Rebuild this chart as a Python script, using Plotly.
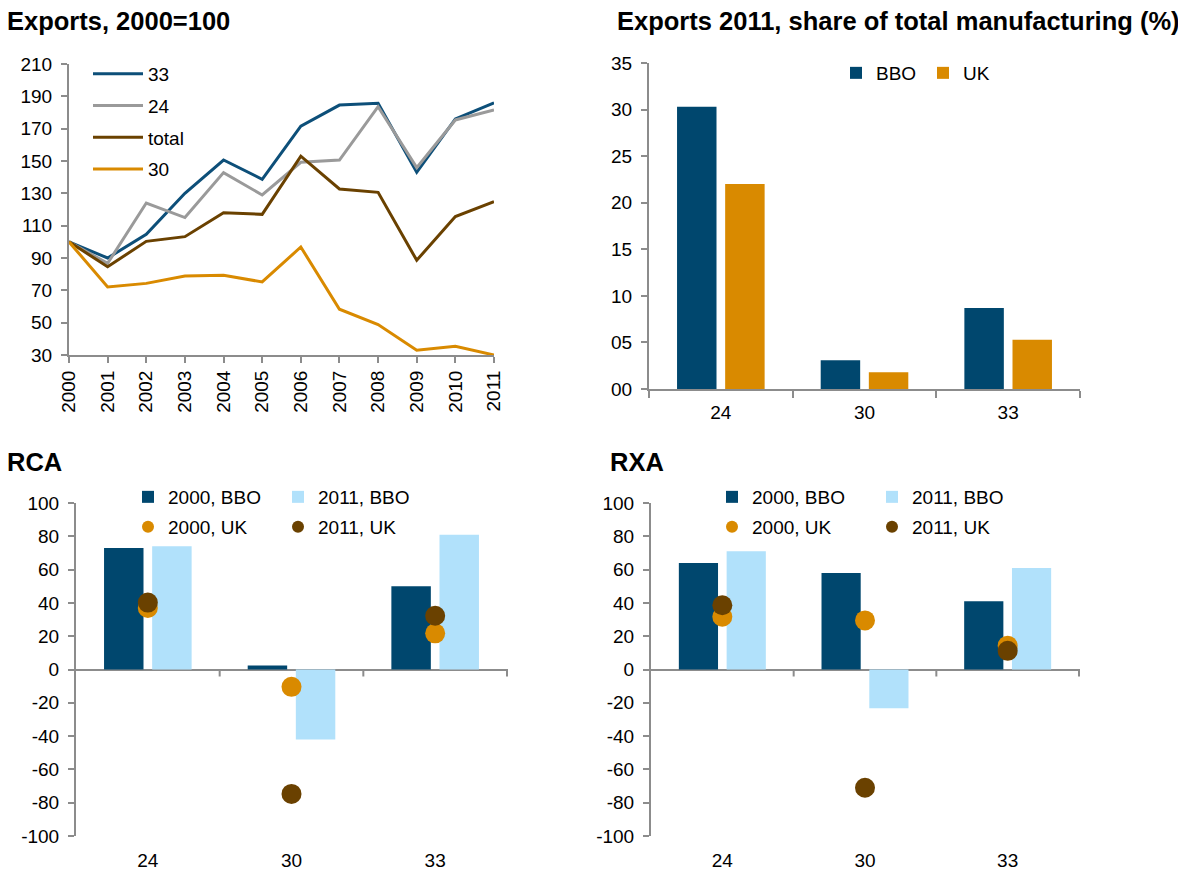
import plotly.graph_objects as go

# ---- data ----
years = list(range(2000, 2012))
exp_33 = [100, 90, 104.6, 130, 150.6, 138.7, 171.6, 184.6, 185.7, 143, 176, 186]
exp_24 = [100, 86.7, 124, 115, 142.8, 129, 149.2, 150.6, 183.6, 145.9, 175.4, 181.5]
exp_total = [100, 84.6, 100.3, 103.2, 118, 117, 153, 132.7, 130.6, 88.6, 115.6, 124.8]
exp_30 = [100, 72.1, 74.3, 78.9, 79.3, 75.2, 96.8, 58.3, 48.8, 32.9, 35.4, 30]

sectors = ["24", "30", "33"]
share_bbo = [30.3, 3.1, 8.7]
share_uk = [22.0, 1.8, 5.3]

rca_bbo_2000 = [73, 2.4, 50]
rca_bbo_2011 = [74, -42, 81]
rca_uk_2000 = [37, -10.4, 21.7]
rca_uk_2011 = [40.2, -74.7, 32.3]

rxa_bbo_2000 = [64, 58, 41]
rxa_bbo_2011 = [71, -23.3, 61]
rxa_uk_2000 = [31.7, 29.5, 14.3]
rxa_uk_2011 = [38.6, -71, 11.2]

# tick labels of the two bottom panels (plain hyphen minus like the original)
index_ticks = [-100, -80, -60, -40, -20, 0, 20, 40, 60, 80, 100]
index_labels = [str(v) for v in index_ticks]

# ---- styling ----
# the page has an 8px body margin, so the figure is drawn 8px smaller
OFF = 8
W, H = 1186 - OFF, 870 - OFF
FONT = "Arial, Liberation Sans, sans-serif"
NAVY = "#00476E"
LIGHTBLUE = "#B1E1FB"
ORANGE = "#D98A00"
BROWN = "#6A4100"
GREY = "#9A9A9A"
BLUE_LINE = "#0D4F79"
AXIS = "#8C8C8C"


def px(x):
    # page pixel -> paper fraction
    return (x - OFF) / W


def py(y):
    return 1 - (y - OFF) / H


fig = go.Figure()

# top-left lines
for name, vals, col in [("33", exp_33, BLUE_LINE), ("24", exp_24, GREY),
                        ("total", exp_total, BROWN), ("30", exp_30, ORANGE)]:
    fig.add_trace(go.Scatter(x=years, y=vals, name=name, mode="lines",
                             line=dict(color=col, width=3), legendgroup=name,
                             xaxis="x", yaxis="y", legend="legend"))

# top-right bars
fig.add_trace(go.Bar(x=sectors, y=share_bbo, name="BBO", marker_color=NAVY,
                     xaxis="x2", yaxis="y2", legend="legend2"))
fig.add_trace(go.Bar(x=sectors, y=share_uk, name="UK", marker_color=ORANGE,
                     xaxis="x2", yaxis="y2", legend="legend2"))

# bottom panels
for ax, b0, b1, u0, u1, lg_bar, lg_dot in [
        ("3", rca_bbo_2000, rca_bbo_2011, rca_uk_2000, rca_uk_2011, "legend3", "legend4"),
        ("4", rxa_bbo_2000, rxa_bbo_2011, rxa_uk_2000, rxa_uk_2011, "legend5", "legend6")]:
    fig.add_trace(go.Bar(x=sectors, y=b0, name="2000, BBO", marker_color=NAVY,
                         xaxis="x" + ax, yaxis="y" + ax, legend=lg_bar))
    fig.add_trace(go.Bar(x=sectors, y=b1, name="2011, BBO", marker_color=LIGHTBLUE,
                         xaxis="x" + ax, yaxis="y" + ax, legend=lg_bar))
    fig.add_trace(go.Scatter(x=sectors, y=u0, name="2000, UK", mode="markers",
                             marker=dict(color=ORANGE, size=20),
                             xaxis="x" + ax, yaxis="y" + ax, legend=lg_dot))
    fig.add_trace(go.Scatter(x=sectors, y=u1, name="2011, UK", mode="markers",
                             marker=dict(color=BROWN, size=20),
                             xaxis="x" + ax, yaxis="y" + ax, legend=lg_dot))

tickfont = dict(family=FONT, size=19, color="#000000")
axis_common = dict(showline=True, linecolor=AXIS, linewidth=2, ticks="outside",
                   tickcolor=AXIS, tickwidth=2, ticklen=6, showgrid=False,
                   zeroline=False, tickfont=tickfont, fixedrange=True,
                   automargin=False)
yaxis_common = dict(axis_common, ticklabelstandoff=5)

legend_common = dict(font=dict(family=FONT, size=19, color="#000000"),
                     bgcolor="rgba(0,0,0,0)", borderwidth=0)

fig.update_layout(
    template="none",
    width=W, height=H,
    margin=dict(l=0, r=0, t=0, b=0, pad=0),
    paper_bgcolor="white", plot_bgcolor="white",
    font=dict(family=FONT, size=19, color="#000000"),
    barmode="group", bargap=0.33, bargroupgap=0.18,
    # top-left
    xaxis=dict(axis_common, domain=[px(69), px(494)], anchor="y",
               range=[2000, 2011], tickvals=years, tickangle=-90),
    yaxis=dict(yaxis_common, domain=[py(355), py(64)], anchor="x",
               range=[30, 210], dtick=20, tick0=30),
    # top-right
    xaxis2=dict(axis_common, domain=[px(649), px(1080)], anchor="y2",
                type="category", tickson="boundaries", ticklen=7,
                ticklabelstandoff=5),
    yaxis2=dict(yaxis_common, domain=[py(389), py(63)], anchor="x2",
                range=[0, 35], dtick=5, tickformat="02d"),
    # bottom-left
    xaxis3=dict(axis_common, domain=[px(76), px(508)], anchor="y3",
                type="category", showline=False, ticks="", ticklabelstandoff=11),
    yaxis3=dict(yaxis_common, domain=[py(836), py(503)], anchor="x3",
                range=[-100, 100], tickvals=index_ticks, ticktext=index_labels,
                zeroline=True, zerolinecolor=AXIS, zerolinewidth=2),
    # bottom-right
    xaxis4=dict(axis_common, domain=[px(651), px(1080)], anchor="y4",
                type="category", showline=False, ticks="", ticklabelstandoff=11),
    yaxis4=dict(yaxis_common, domain=[py(836), py(503)], anchor="x4",
                range=[-100, 100], tickvals=index_ticks, ticktext=index_labels,
                zeroline=True, zerolinecolor=AXIS, zerolinewidth=2),
    legend=dict(legend_common, x=px(88), y=py(55), xanchor="left", yanchor="top",
                orientation="v", tracegroupgap=4, itemwidth=50),
    legend2=dict(legend_common, x=px(836), y=py(73), xanchor="left", yanchor="middle",
                 orientation="h", entrywidth=42),
    legend3=dict(legend_common, x=px(128), y=py(497), xanchor="left", yanchor="middle",
                 orientation="h", entrywidth=105),
    legend4=dict(legend_common, x=px(128), y=py(527), xanchor="left", yanchor="middle",
                 orientation="h", entrywidth=105, itemsizing="constant"),
    legend5=dict(legend_common, x=px(712), y=py(497), xanchor="left", yanchor="middle",
                 orientation="h", entrywidth=115),
    legend6=dict(legend_common, x=px(712), y=py(527), xanchor="left", yanchor="middle",
                 orientation="h", entrywidth=115, itemsizing="constant"),
)

# small ticks on the zero line between categories
shapes = []
for ax in ["3", "4"]:
    for b in [0.5, 1.5, 2.5]:
        shapes.append(dict(type="line", xref="x" + ax, yref="y" + ax,
                           x0=b, x1=b, ysizemode="pixel", yanchor=0, y0=0, y1=-7,
                           line=dict(color=AXIS, width=2)))
fig.update_layout(shapes=shapes)

titles = [("Exports, 2000=100", 5, 21),
          ("Exports 2011, share of total manufacturing (%)", 615, 21),
          ("RCA", 5, 462),
          ("RXA", 608, 462)]
for text, x, y in titles:
    fig.add_annotation(text="<b>" + text + "</b>", xref="paper", yref="paper",
                       x=px(x), y=py(y), xanchor="left", yanchor="middle",
                       showarrow=False, font=dict(family=FONT, size=25.5, color="#000000"))

fig.write_html("out.html")
